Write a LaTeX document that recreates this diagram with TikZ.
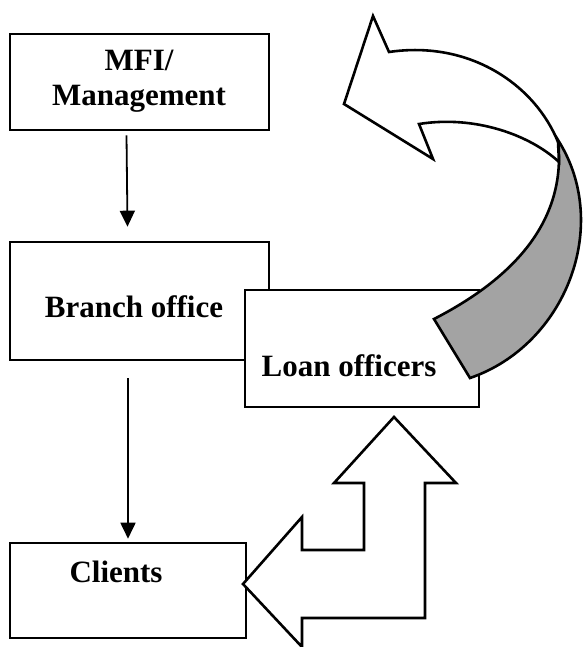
\documentclass[tikz,border=0pt]{standalone}
\usepackage{fontspec}
\setmainfont{Liberation Serif}
\usetikzlibrary{arrows.meta}
\begin{document}
\begin{tikzpicture}[x=1pt,y=-1pt,
  box/.style={draw=black, line width=2.6pt, fill=white, rectangle, inner sep=0pt},
  lbl/.style={font=\fontsize{31}{35}\selectfont\bfseries, align=center, inner sep=0pt},
  link/.style={line width=1.8pt, -{Triangle[length=16pt,width=15pt]}},
  block/.style={draw=black, line width=2.6pt, line join=miter, fill=white},
  backface/.style={draw=black, line width=2.6pt, line join=miter, fill=black!36}]
\useasboundingbox (0,0) rectangle (584,647);

% boxes of the hierarchy
\node[box, minimum width=259pt, minimum height=96pt] (mfi) at (139.5,82) {};
\node[lbl] (mfilbl) at (139,81) {MFI/\\Management};
\node[box, minimum width=259pt, minimum height=118pt] (branch) at (139.5,301) {};
\node[lbl] (branchlbl) at (134,307) {Branch office};
\node[box, minimum width=234pt, minimum height=117pt] (loan) at (362,348.5) {};
\node[lbl] (loanlbl) at (349,366) {Loan officers};
\node[box, minimum width=236pt, minimum height=95pt] (clients) at (128,590.5) {};
\node[lbl] (clientslbl) at (116,572) {Clients};

% top-down links
\draw[link] ([xshift=-13pt,yshift=-4pt]mfi.south) -- ([xshift=-12pt,yshift=14pt]branch.north);
\draw[link] ([xshift=-11.5pt,yshift=-17pt]branch.south) -- ([xshift=0pt,yshift=3pt]clients.north);

% bent block arrow between clients and loan officers
\draw[block] (394,417) -- (456,483) -- (425,483) -- (425,618) -- (302,618)
  -- (302,647) -- (243,584) -- (302,517) -- (302,550) -- (364,550)
  -- (364,483) -- (334,483) -- cycle;

% curved ribbon arrow: shaded back face
\draw[backface] (558,140) .. controls (612,225) and (566,345) .. (470,378)
  -- (434,319) .. controls (500,285) and (568,230) .. (558,140) -- cycle;
% curved ribbon arrow: front face with head
\draw[block] (389,52) .. controls (470,40) and (535,85) .. (558,142)
  -- (559,162) .. controls (530,135) and (475,115) .. (419,124)
  -- (433,159) -- (344,104) -- (373,16) -- cycle;
\end{tikzpicture}
\end{document}
